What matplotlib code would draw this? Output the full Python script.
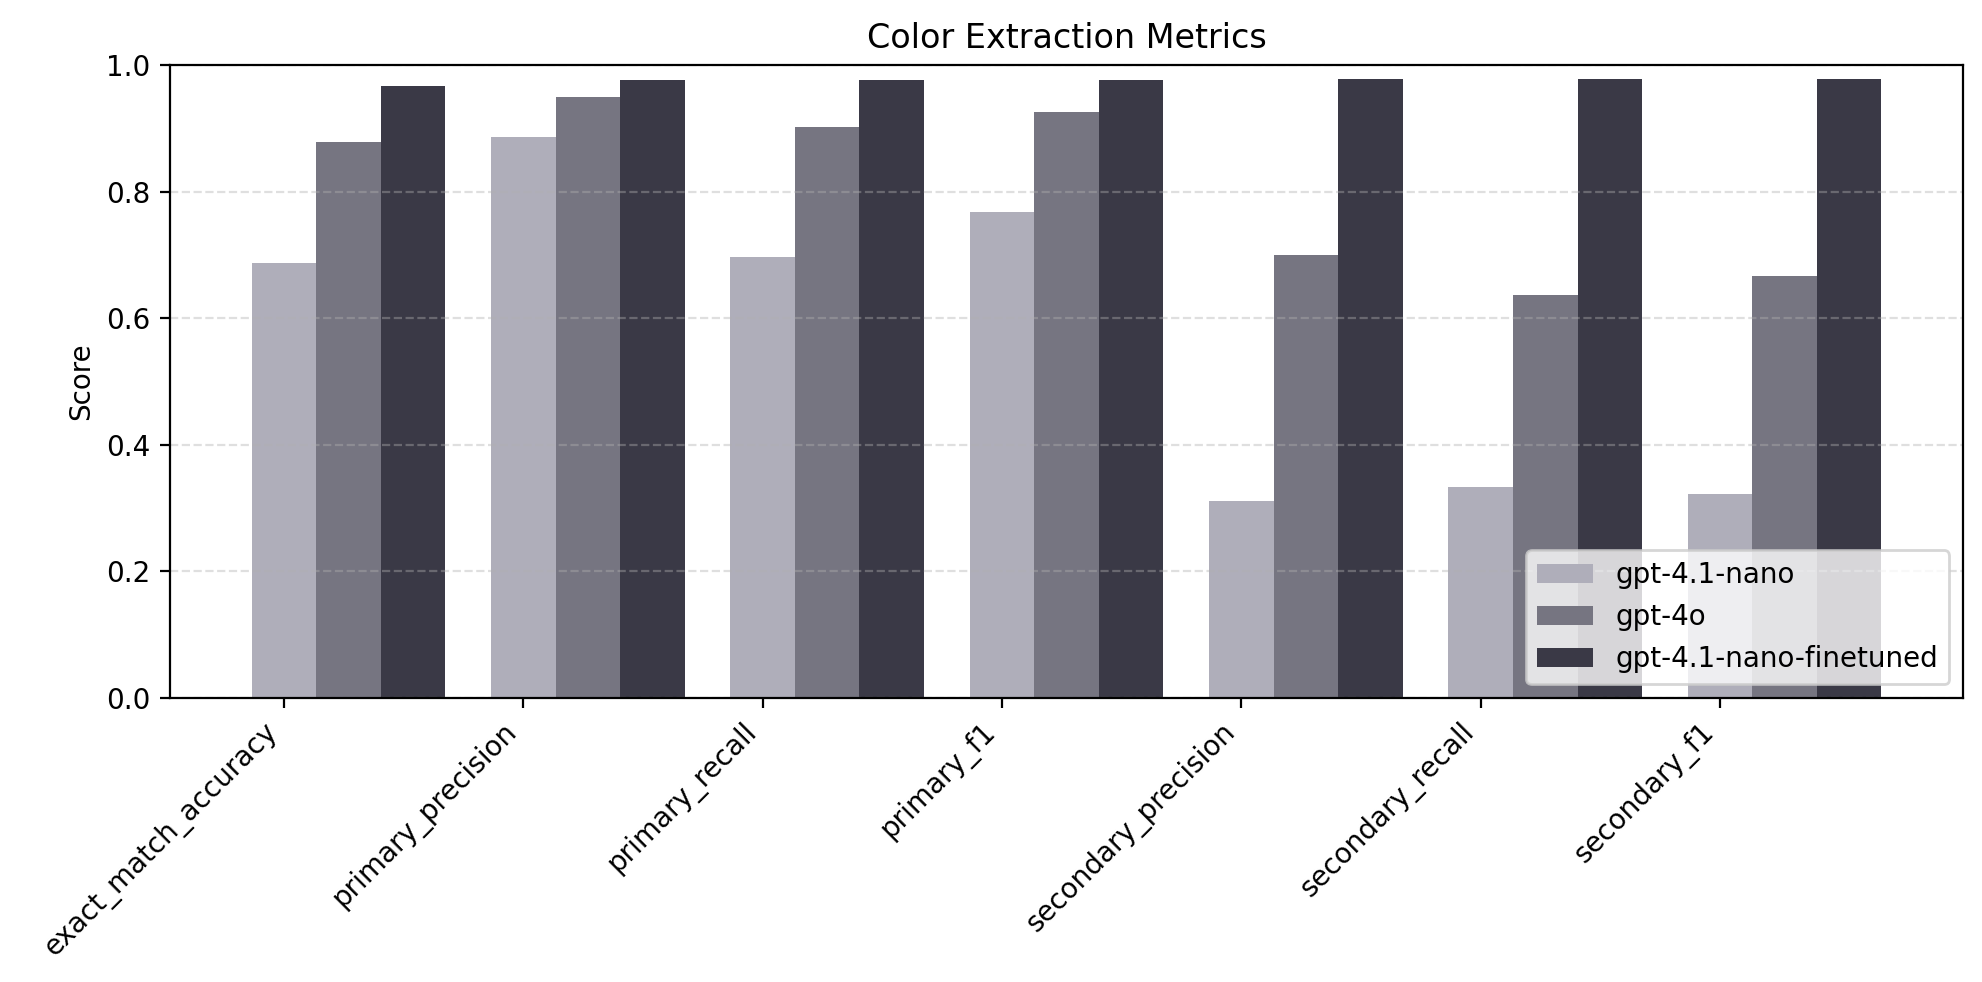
import numpy as np
import matplotlib.pyplot as plt

metrics = ['exact_match_accuracy', 'primary_precision', 'primary_recall', 'primary_f1',
           'secondary_precision', 'secondary_recall', 'secondary_f1']
models = ['gpt-4.1-nano', 'gpt-4o', 'gpt-4.1-nano-finetuned']
nano = [0.687, 0.886, 0.697, 0.768, 0.311, 0.333, 0.322]
gpt4o = [0.878, 0.949, 0.902, 0.926, 0.700, 0.636, 0.666]
finetuned = [0.967, 0.976, 0.976, 0.976, 0.978, 0.978, 0.978]
colors = ['#afaeba', '#767581', '#3a3946']

fig = plt.figure(figsize=(9.91, 4.91), dpi=200)
ax = fig.add_axes([0.0858, 0.2892, 0.9046, 0.6446])

x = np.arange(len(metrics))
width = 0.27
for i, (vals, name) in enumerate(zip([nano, gpt4o, finetuned], models)):
    ax.bar(x + i * width, vals, width, label=name, color=colors[i])

ax.set_xticks(x)
ax.set_xticklabels(metrics, rotation=45, ha='right')
ax.set_ylim(0, 1)
ax.set_ylabel('Score')
ax.set_title('Color Extraction Metrics')
ax.grid(axis='y', linestyle='--', alpha=0.4)
ax.legend(loc='lower right')

fig.savefig('out.png', dpi=200)
